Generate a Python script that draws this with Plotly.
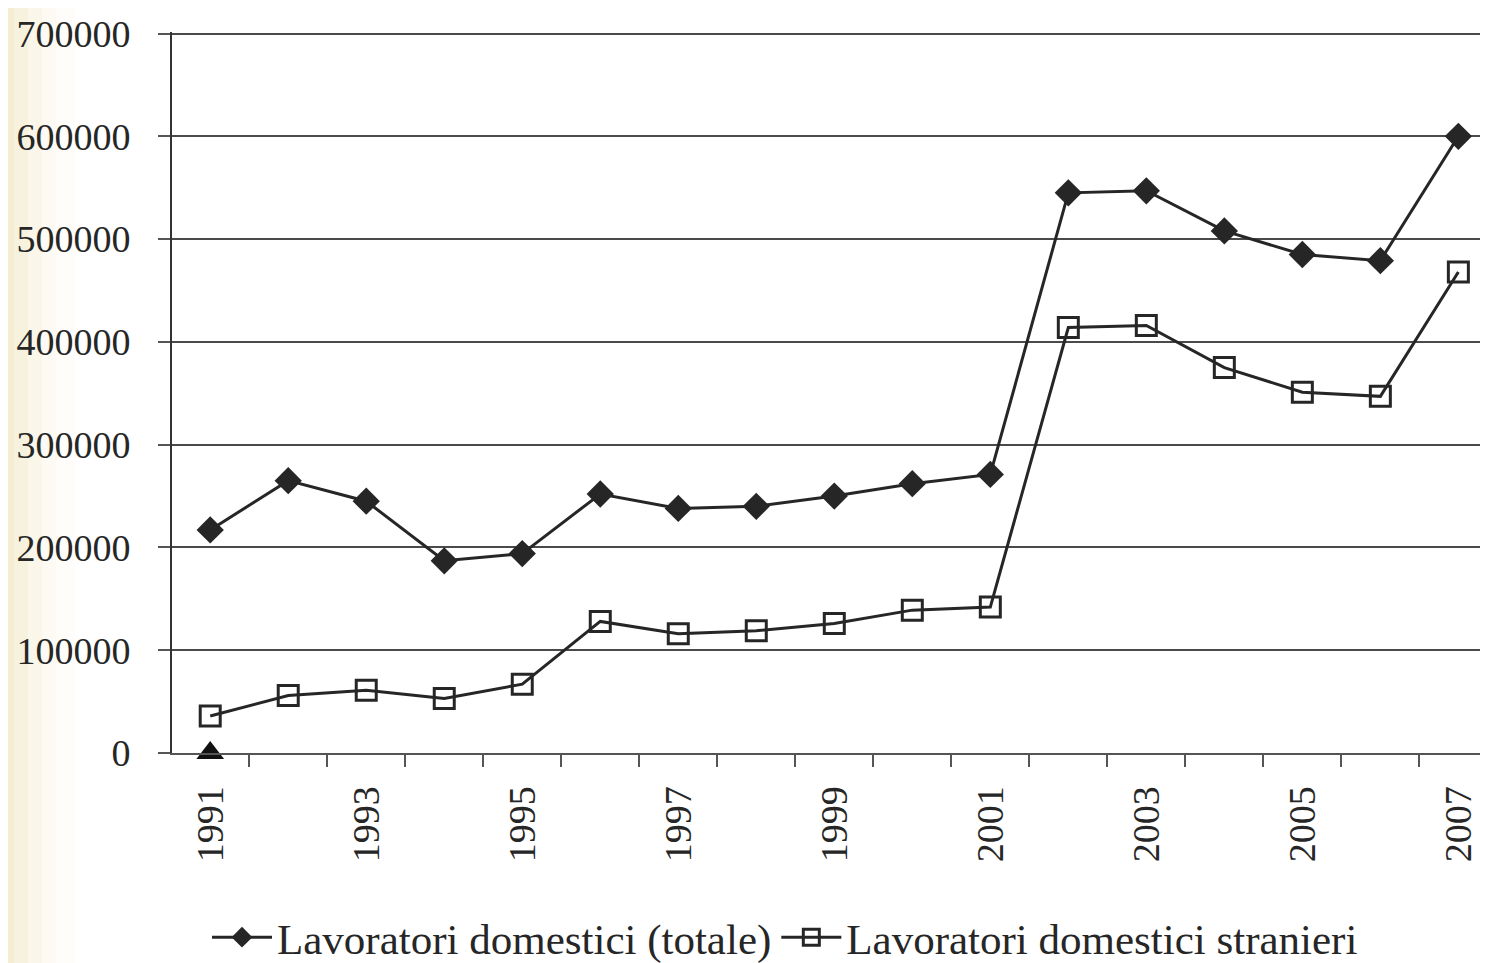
import plotly.graph_objects as go

years = list(range(1991, 2008))
totale = [217000, 265000, 245000, 187000, 194000, 252000, 238000, 240000, 250000,
          262000, 271000, 545000, 547000, 508000, 485000, 479000, 600000]
stranieri = [36000, 56000, 61000, 53000, 67000, 128000, 116000, 119000, 126000,
             139000, 142000, 414000, 416000, 375000, 351000, 347000, 468000]
marker_extra_x = [1991]
marker_extra_y = [0]
ytick_vals = [0, 100000, 200000, 300000, 400000, 500000, 600000, 700000]
xtick_vals = [1991, 1993, 1995, 1997, 1999, 2001, 2003, 2005, 2007]
name_tot = "Lavoratori domestici (totale)"
name_str = "Lavoratori domestici stranieri"

FONT = "Liberation Serif"
INK = "#262626"

fig = go.Figure()
fig.add_trace(go.Scatter(
    x=years, y=totale, name=name_tot, mode="lines+markers",
    line=dict(color=INK, width=3),
    marker=dict(symbol="diamond", size=21, color=INK, line=dict(width=0)),
))
fig.add_trace(go.Scatter(
    x=years, y=stranieri, name=name_str, mode="lines+markers",
    line=dict(color=INK, width=3),
    marker=dict(symbol="square-open", size=20, color=INK, line=dict(width=3)),
))
fig.add_trace(go.Scatter(
    x=marker_extra_x, y=marker_extra_y, mode="markers", showlegend=False,
    marker=dict(symbol="triangle-up", size=24, color="#111"), cliponaxis=False,
))

# paper tint on the left edge (scan)
shapes = []
tints = [(0, 14, 0.55), (14, 28, 0.40), (28, 42, 0.26), (42, 56, 0.14), (56, 75, 0.06)]
for x0, x1, a in tints:
    shapes.append(dict(type="rect", xref="paper", yref="paper", layer="below",
                       x0=(x0 - 172) / 1316, x1=(x1 - 172) / 1316, y0=-0.3, y1=1.05,
                       fillcolor=f"rgba(236,222,170,{a})", line=dict(width=0)))

fig.update_layout(
    width=1480, height=955,
    margin=dict(l=164, r=0, t=24, b=210, autoexpand=False),
    paper_bgcolor="white", plot_bgcolor="white",
    font=dict(family=FONT, color=INK, size=38),
    shapes=shapes,
    showlegend=True,
    legend=dict(orientation="h", xref="container", yref="container",
                x=0.525, xanchor="center", y=0.027, yanchor="middle",
                font=dict(size=43, family=FONT, color=INK),
                itemwidth=60, traceorder="normal", bgcolor="rgba(0,0,0,0)"),
    xaxis=dict(
        range=[1990.51, 2007.38], tickmode="array", tickvals=xtick_vals,
        ticktext=[str(v) for v in xtick_vals], tickangle=-90, ticks="",
        ticklabelstandoff=16, automargin=False, ticklabeloverflow="allow",
        minor=dict(tickmode="array", tickvals=[y + 0.5 for y in range(1990, 2008)],
                   ticks="outside", ticklen=12, tickwidth=2, tickcolor="#555"),
        showgrid=False, zeroline=False, showline=True, linecolor="#555", linewidth=2,
        tickfont=dict(size=38, family=FONT, color=INK),
    ),
    yaxis=dict(
        range=[0, 701500], tickmode="array", tickvals=ytick_vals,
        ticktext=[str(v) for v in ytick_vals], automargin=False,
        ticklabeloverflow="allow",
        ticks="outside", ticklen=12, tickwidth=2, tickcolor="#555",
        ticklabelstandoff=20,
        showgrid=True, gridcolor="#4a4a4a", gridwidth=2,
        zeroline=False, showline=True, linecolor="#333", linewidth=2,
        tickfont=dict(size=38, family=FONT, color=INK),
    ),
)

fig.write_html("out.html")
